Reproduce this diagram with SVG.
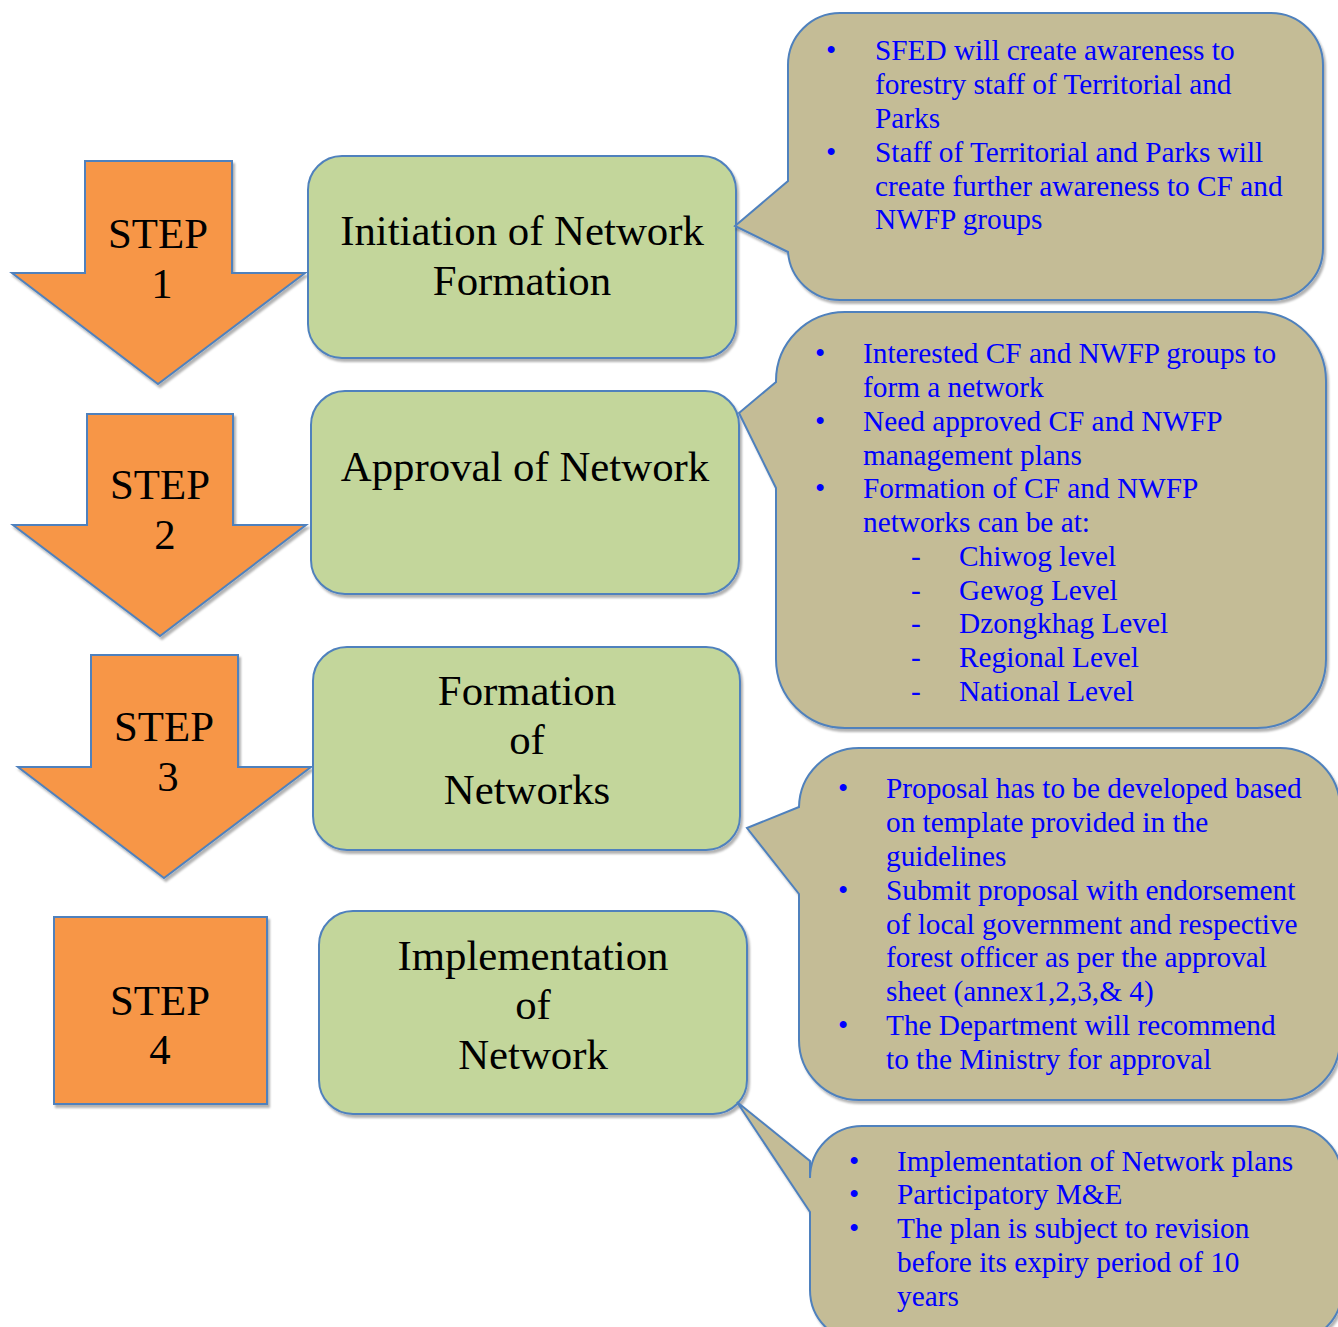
<svg xmlns="http://www.w3.org/2000/svg" width="1338" height="1327" viewBox="0 0 1338 1327">
<style>
.arrow{fill:#F79646;stroke:#4F81BD;stroke-width:2;filter:url(#sh)}
.box{fill:#C3D69B;stroke:#4F81BD;stroke-width:2;filter:url(#sh)}
.call{fill:#C4BC96;stroke:#4F81BD;stroke-width:2;filter:url(#sh)}
.big{font-family:"Liberation Serif","Times New Roman",serif;font-size:42.8px;fill:#000;text-anchor:middle}
.t{font-family:"Liberation Serif","Times New Roman",serif;font-size:29.3px;fill:#0000FF}
</style>
<defs>
<filter id="sh" x="-5%" y="-5%" width="115%" height="115%">
<feDropShadow dx="2" dy="3" stdDeviation="1.2" flood-color="#000" flood-opacity="0.3"/>
</filter>
</defs>
<g id="step1">
<polygon class="arrow" points="85,161 232,161 232,273 305,273 158,384 12,273 85,273"/>
<text class="big" x="158" y="248">STEP</text>
<text class="big" x="162" y="298">1</text>
</g>
<g id="step2">
<polygon class="arrow" points="87,414 233,414 233,525 306,525 160,636 13,525 87,525"/>
<text class="big" x="160" y="499">STEP</text>
<text class="big" x="165" y="549">2</text>
</g>
<g id="step3">
<polygon class="arrow" points="91,655 238,655 238,767 311,767 164,878 18,767 91,767"/>
<text class="big" x="164" y="741">STEP</text>
<text class="big" x="168" y="791">3</text>
</g>
<g id="step4">
<rect class="arrow" x="54" y="917" width="213" height="187"/>
<text class="big" x="160" y="1015">STEP</text>
<text class="big" x="160" y="1064">4</text>
</g>
<g id="box1">
<rect class="box" x="308" y="156" width="428" height="202" rx="34"/>
<text class="big" x="522" y="245">Initiation of Network</text>
<text class="big" x="522" y="295">Formation</text>
</g>
<g id="box2">
<rect class="box" x="311" y="391" width="428" height="203" rx="34"/>
<text class="big" x="525" y="481">Approval of Network</text>
</g>
<g id="box3">
<rect class="box" x="313" y="647" width="427" height="203" rx="34"/>
<text class="big" x="527" y="705">Formation</text>
<text class="big" x="527" y="754">of</text>
<text class="big" x="527" y="804">Networks</text>
</g>
<g id="box4">
<rect class="box" x="319" y="911" width="428" height="203" rx="34"/>
<text class="big" x="533" y="970">Implementation</text>
<text class="big" x="533" y="1019">of</text>
<text class="big" x="533" y="1069">Network</text>
</g>
<g id="callout1">
<path class="call" d="M 840 13 H 1271 A 52 52 0 0 1 1323 65 V 248 A 52 52 0 0 1 1271 300 H 840 A 52 52 0 0 1 788 252 L 735 226 L 788 181 V 65 A 52 52 0 0 1 840 13 Z"/>
<text class="t" x="826" y="60">•</text><text class="t" x="875" y="60">SFED will create awareness to</text>
<text class="t" x="875" y="94">forestry staff of Territorial and</text>
<text class="t" x="875" y="128">Parks</text>
<text class="t" x="826" y="162">•</text><text class="t" x="875" y="162">Staff of Territorial and Parks will</text>
<text class="t" x="875" y="196">create further awareness to CF and</text>
<text class="t" x="875" y="229">NWFP groups</text>
</g>
<g id="callout2">
<path class="call" d="M 845 312 H 1257 A 69 69 0 0 1 1326 381 V 659 A 69 69 0 0 1 1257 728 H 845 A 69 69 0 0 1 776 659 V 488 L 739 413 L 776 382 V 381 A 69 69 0 0 1 845 312 Z"/>
<text class="t" x="815" y="363">•</text><text class="t" x="863" y="363">Interested CF and NWFP groups to</text>
<text class="t" x="863" y="397">form a network</text>
<text class="t" x="815" y="431">•</text><text class="t" x="863" y="431">Need approved CF and NWFP</text>
<text class="t" x="863" y="465">management plans</text>
<text class="t" x="815" y="498">•</text><text class="t" x="863" y="498">Formation of CF and NWFP</text>
<text class="t" x="863" y="532">networks can be at:</text>
<text class="t" x="911" y="566">-</text><text class="t" x="959" y="566">Chiwog level</text>
<text class="t" x="911" y="600">-</text><text class="t" x="959" y="600">Gewog Level</text>
<text class="t" x="911" y="633">-</text><text class="t" x="959" y="633">Dzongkhag Level</text>
<text class="t" x="911" y="667">-</text><text class="t" x="959" y="667">Regional Level</text>
<text class="t" x="911" y="701">-</text><text class="t" x="959" y="701">National Level</text>
</g>
<g id="callout3">
<path class="call" d="M 859 748 H 1280 A 60 60 0 0 1 1340 808 V 1040 A 60 60 0 0 1 1280 1100 H 859 A 60 60 0 0 1 799 1040 V 894 L 747 828 L 799 807 A 60 60 0 0 1 859 748 Z"/>
<text class="t" x="838" y="798">•</text><text class="t" x="886" y="798">Proposal has to be developed based</text>
<text class="t" x="886" y="832">on template provided in the</text>
<text class="t" x="886" y="866">guidelines</text>
<text class="t" x="838" y="900">•</text><text class="t" x="886" y="900">Submit proposal with endorsement</text>
<text class="t" x="886" y="934">of local government and respective</text>
<text class="t" x="886" y="967">forest officer as per the approval</text>
<text class="t" x="886" y="1001">sheet (annex1,2,3,&amp; 4)</text>
<text class="t" x="838" y="1035">•</text><text class="t" x="886" y="1035">The Department will recommend</text>
<text class="t" x="886" y="1069">to the Ministry for approval</text>
</g>
<g id="callout4">
<path class="call" d="M 862 1126 H 1290 A 52 52 0 0 1 1342 1178 V 1290 A 52 52 0 0 1 1290 1342 H 862 A 52 52 0 0 1 810 1290 V 1212 L 737 1102 L 810 1161 V 1178 A 52 52 0 0 1 862 1126 Z"/>
<text class="t" x="849" y="1171">•</text><text class="t" x="897" y="1171">Implementation of Network plans</text>
<text class="t" x="849" y="1204">•</text><text class="t" x="897" y="1204">Participatory M&amp;E</text>
<text class="t" x="849" y="1238">•</text><text class="t" x="897" y="1238">The plan is subject to revision</text>
<text class="t" x="897" y="1272">before its expiry period of 10</text>
<text class="t" x="897" y="1306">years</text>
</g>
<g id="connectors"></g>
</svg>
